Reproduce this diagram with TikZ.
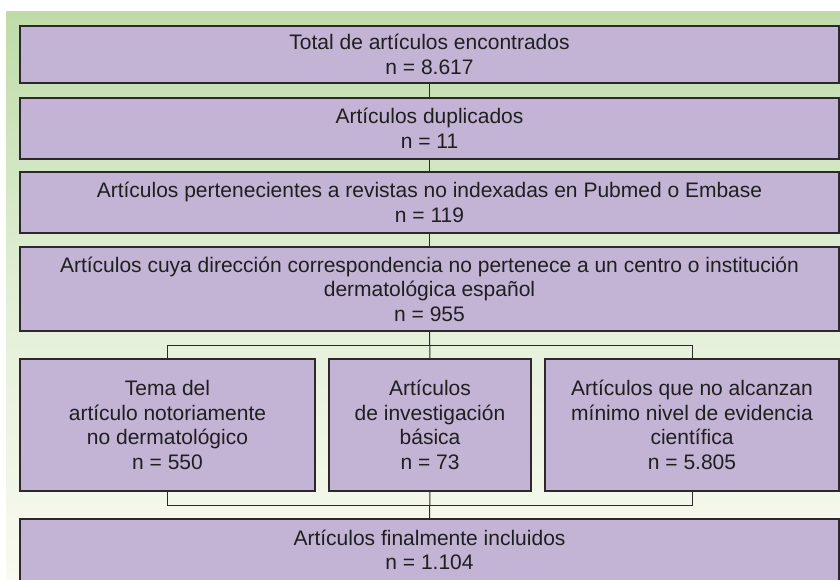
\documentclass[tikz,border=0pt]{standalone}
\usepackage{fontspec}
\setmainfont{Liberation Sans}
\definecolor{bgtop}{RGB}{190,219,168}
\definecolor{bgmid}{RGB}{226,239,215}
\definecolor{bgbot}{RGB}{250,250,240}
\definecolor{boxfill}{RGB}{195,179,213}
\definecolor{edge}{RGB}{45,40,45}
\begin{document}
\begin{tikzpicture}[x=1pt,y=-1pt,
  stepbox/.style={draw=edge, line width=1.1pt, fill=boxfill, rectangle, inner sep=0pt, align=center,
    font=\fontsize{21}{24.6}\selectfont, text=black!88},
  conn/.style={draw=edge, line width=1pt}]
\useasboundingbox (0,0) rectangle (840,579);
\shade[top color=bgtop, bottom color=bgbot, middle color=bgmid] (6,11) rectangle (840,579);
\node[stepbox, minimum width=819pt, minimum height=57pt] (b1) at (429.5,54.5) {Total de artículos encontrados\\n = 8.617};
\node[stepbox, minimum width=819pt, minimum height=61pt] (b2) at (429.5,128.5) {Artículos duplicados\\n = 11};
\node[stepbox, minimum width=819pt, minimum height=61pt] (b3) at (429.5,202.5) {Artículos pertenecientes a revistas no indexadas en Pubmed o Embase\\n = 119};
\node[stepbox, minimum width=819pt, minimum height=84pt] (b4) at (429.5,289) {Artículos cuya dirección correspondencia no pertenece a un centro o institución\\dermatológica español\\n = 955};
\node[stepbox, minimum width=295pt, minimum height=132pt] (ba) at (167.5,425) {Tema del\\artículo notoriamente\\no dermatológico\\n = 550};
\node[stepbox, minimum width=202pt, minimum height=132pt] (bb) at (430,425) {Artículos\\de investigación\\básica\\n = 73};
\node[stepbox, minimum width=294pt, minimum height=132pt] (bc) at (692,425) {Artículos que no alcanzan\\mínimo nivel de evidencia\\científica\\n = 5.805};
\node[stepbox, minimum width=819pt, minimum height=62pt] (b5) at (429.5,550) {Artículos finalmente incluidos\\n = 1.104};
\coordinate (top) at (0,345);
\coordinate (bot) at (0,505);
\draw[conn] (b1) -- (b2);
\draw[conn] (b2) -- (b3);
\draw[conn] (b3) -- (b4);
\draw[conn] (b4.south) -- (bb.north);
\draw[conn] (ba.north) -- (ba.north |- top) -- (bc.north |- top) -- (bc.north);
\draw[conn] (bb.south) -- (b5.north);
\draw[conn] (ba.south) -- (ba.south |- bot) -- (bc.south |- bot) -- (bc.south);
\end{tikzpicture}
\end{document}
